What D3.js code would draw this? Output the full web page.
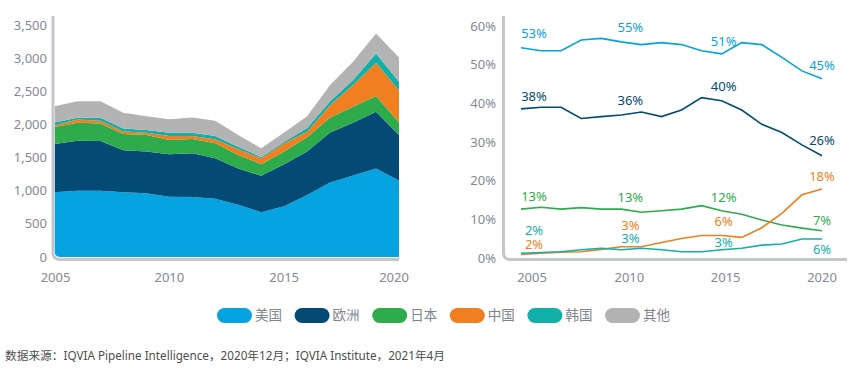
<!DOCTYPE html>
<html>
<head>
<meta charset="utf-8">
<script src="https://cdn.jsdelivr.net/npm/d3@7"></script>
<style>
  body { margin: 0; background: #fff; }
  svg { display: block; }
  text { font-family: "Noto Sans", "Noto Sans CJK SC", sans-serif; }
</style>
</head>
<body>
<svg id="chart" width="857" height="371"></svg>
<script>
// categories
var years = [2005, 2006, 2007, 2008, 2009, 2010, 2011, 2012, 2013, 2014, 2015, 2016, 2017, 2018, 2019, 2020];
var regions = ["美国", "欧洲", "日本", "中国", "韩国", "其他"];
var colors = ["#05a3e0", "#034a75", "#2eab4b", "#f07f22", "#13b0aa", "#b3b3b3"];

// left: counts per region (stacked)
var countUS = [975, 1000, 1000, 975, 960, 910, 905, 880, 790, 675, 765, 935, 1125, 1230, 1335, 1155];
var countEU = [730, 755, 750, 635, 630, 640, 660, 610, 545, 550, 635, 655, 755, 795, 855, 685];
var countJP = [255, 270, 265, 245, 250, 215, 215, 225, 205, 175, 190, 215, 225, 240, 240, 190];
var countCN = [25, 50, 40, 40, 35, 60, 45, 60, 85, 90, 125, 85, 185, 330, 500, 480];
var countKR = [45, 25, 45, 45, 40, 50, 50, 50, 40, 20, 25, 55, 60, 75, 140, 135];
var countOther = [245, 250, 250, 235, 210, 205, 230, 230, 175, 130, 140, 180, 245, 275, 300, 365];

// right: share per region (%)
var shareUS = [54.4, 53.6, 53.6, 56.4, 56.8, 55.9, 55.2, 55.7, 55.2, 53.6, 52.8, 55.7, 55.2, 51.9, 48.4, 46.4];
var shareEU = [38.6, 39.0, 39.0, 36.1, 36.6, 37.0, 37.8, 36.6, 38.3, 41.5, 40.7, 38.3, 34.6, 32.5, 29.3, 26.5];
var shareJP = [12.7, 13.2, 12.7, 13.1, 12.7, 12.7, 11.9, 12.3, 12.7, 13.6, 12.3, 11.4, 9.9, 8.6, 7.8, 7.1];
var shareCN = [1.0, 1.3, 1.6, 1.7, 2.3, 3.0, 3.0, 4.1, 5.1, 5.9, 5.9, 5.4, 7.9, 11.6, 16.4, 17.9];
var shareKR = [1.3, 1.5, 1.7, 2.2, 2.6, 2.2, 2.6, 2.2, 1.7, 1.7, 2.2, 2.6, 3.4, 3.7, 5.0, 5.0];

// right: value labels
var labelYears = [2005, 2010, 2015, 2020];
var labelUS = ["53%", "55%", "51%", "45%"];
var labelEU = ["38%", "36%", "40%", "26%"];
var labelJP = ["13%", "13%", "12%", "7%"];
var labelCN = ["2%", "3%", "6%", "18%"];
var labelKR = ["2%", "3%", "3%", "6%"];

// ticks
var countTicks = [0, 500, 1000, 1500, 2000, 2500, 3000, 3500];
var shareTicks = [0, 10, 20, 30, 40, 50, 60];
var yearTicks = [2005, 2010, 2015, 2020];

var countSeries = [countUS, countEU, countJP, countCN, countKR, countOther];
var shareSeries = [shareUS, shareEU, shareJP, shareCN, shareKR];
var labelSeries = [labelUS, labelEU, labelJP, labelCN, labelKR];

var tickColor = "#838996",
    axisColor = "#c3c6cb";

var svg = d3.select("#chart");

// ---------- left: stacked area ----------
var table = years.map(function(y, i) {
  var row = { year: y };
  regions.forEach(function(r, k) { row[r] = countSeries[k][i]; });
  return row;
});

var x1 = d3.scaleLinear().domain([2005, 2020]).range([54.5, 399]);
var y1 = d3.scaleLinear().domain([0, 3500]).range([257, 25]);

var stack = d3.stack().keys(regions);
var layers = stack(table);

var area = d3.area()
    .x(function(d) { return x1(d.data.year); })
    .y0(function(d) { return y1(d[0]); })
    .y1(function(d) { return y1(d[1]); });

// rounded bottom-left corner like the original
var r = 6;
svg.append("clipPath").attr("id", "leftClip")
  .append("path")
    .attr("d", "M" + x1(2005) + ",0V" + (y1(0) - r) +
               "Q" + x1(2005) + "," + y1(0) + " " + (x1(2005) + r) + "," + y1(0) +
               "H" + (x1(2020) + 1) + "V0Z");

svg.append("g")
    .attr("clip-path", "url(#leftClip)")
  .selectAll("path")
    .data(layers)
  .enter().append("path")
    .attr("d", area)
    .attr("fill", function(d, i) { return colors[i]; });

function cornerAxis(xl, yt, yb, xr) {
  var c = 7;
  return "M" + xl + "," + yt + "V" + (yb - c) +
         "Q" + xl + "," + yb + " " + (xl + c) + "," + yb + "H" + xr;
}

svg.append("path")
    .attr("d", cornerAxis(53, 16, 259.5, 399))
    .attr("fill", "none")
    .attr("stroke", axisColor)
    .attr("stroke-width", 3);

svg.append("g").selectAll("text")
    .data(countTicks)
  .enter().append("text")
    .attr("x", 47)
    .attr("y", function(d) { return y1(d); })
    .attr("dy", "0.35em")
    .attr("text-anchor", "end")
    .attr("font-size", 13)
    .attr("fill", tickColor)
    .text(d3.format(",d"));

svg.append("g").selectAll("text")
    .data(yearTicks)
  .enter().append("text")
    .attr("x", function(d) { return x1(d) + (d === 2005 ? 1 : d === 2020 ? -5 : 0); })
    .attr("y", 277)
    .attr("dy", "0.35em")
    .attr("text-anchor", "middle")
    .attr("font-size", 13)
    .attr("fill", tickColor)
    .text(function(d) { return d; });

// ---------- right: share lines ----------
var x2 = d3.scaleLinear().domain([2005, 2020]).range([521, 822]);
var y2 = d3.scaleLinear().domain([0, 60]).range([258.3, 26]);

svg.append("path")
    .attr("d", cornerAxis(503.5, 16, 259.5, 847))
    .attr("fill", "none")
    .attr("stroke", axisColor)
    .attr("stroke-width", 3);

svg.append("g").selectAll("text")
    .data(shareTicks)
  .enter().append("text")
    .attr("x", 496)
    .attr("y", function(d) { return y2(d); })
    .attr("dy", "0.35em")
    .attr("text-anchor", "end")
    .attr("font-size", 13)
    .attr("fill", tickColor)
    .text(function(d) { return d + "%"; });

svg.append("g").selectAll("text")
    .data(yearTicks)
  .enter().append("text")
    .attr("x", function(d) { return x2(d) + (d === 2005 ? 11 : d === 2010 ? 8 : d === 2015 ? 4 : 0); })
    .attr("y", 277)
    .attr("dy", "0.35em")
    .attr("text-anchor", "middle")
    .attr("font-size", 13)
    .attr("fill", tickColor)
    .text(function(d) { return d; });

var line = d3.line()
    .x(function(d, i) { return x2(years[i]); })
    .y(function(d) { return y2(d); });

svg.append("g").selectAll("path")
    .data(shareSeries)
  .enter().append("path")
    .attr("d", line)
    .attr("fill", "none")
    .attr("stroke", function(d, i) { return colors[i]; })
    .attr("stroke-width", 1.6);

// label offsets (px above the line); a few nudged to avoid overlaps
var labelDx = [13, 9, 2, 0];
var labelDy = [
  [-14, -14, -12, -13],
  [-12, -15, -14, -15],
  [-13, -12, -13, -10],
  [-10, -21, -14, -13],
  [-23, -11, -7, 11]
];

labelSeries.forEach(function(labels, k) {
  svg.append("g").selectAll("text")
      .data(labels)
    .enter().append("text")
      .attr("x", function(d, j) { return x2(labelYears[j]) + labelDx[j]; })
      .attr("y", function(d, j) {
        var i = years.indexOf(labelYears[j]);
        return y2(shareSeries[k][i]) + labelDy[k][j];
      })
      .attr("dy", "0.35em")
      .attr("text-anchor", "middle")
      .attr("font-size", 13)
      .attr("fill", colors[k])
      .text(function(d) { return d; });
});

// ---------- legend ----------
var legend = svg.append("g").selectAll("g")
    .data(regions)
  .enter().append("g")
    .attr("transform", function(d, i) { return "translate(" + (217 + i * 77.6) + ",308)"; });

legend.append("rect")
    .attr("width", 35)
    .attr("height", 15)
    .attr("rx", 7.5)
    .attr("fill", function(d, i) { return colors[i]; });

legend.append("text")
    .attr("x", 38)
    .attr("y", 7.5)
    .attr("dy", "0.35em")
    .attr("font-size", 13.5)
    .attr("font-family", "'Noto Sans CJK SC', sans-serif")
    .attr("fill", "#7e8591")
    .text(function(d) { return d; });

// ---------- source ----------
svg.append("text")
    .attr("x", 5)
    .attr("y", 356)
    .attr("dy", "0.35em")
    .attr("font-size", 11.7)
    .attr("font-family", "'Noto Sans CJK SC', sans-serif")
    .attr("fill", "#4d4d4d")
    .text("数据来源：IQVIA Pipeline Intelligence，2020年12月；IQVIA Institute，2021年4月");
</script>
</body>
</html>
